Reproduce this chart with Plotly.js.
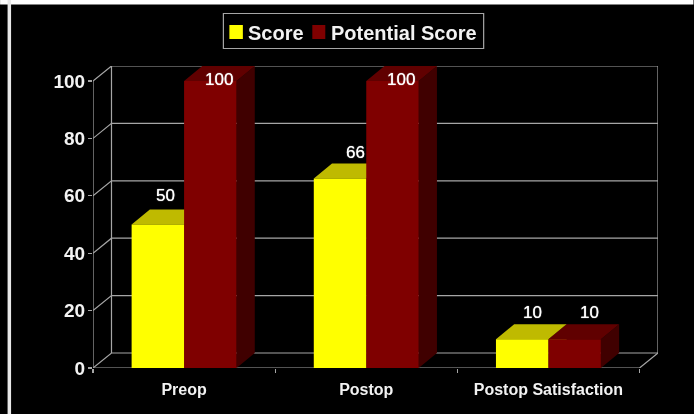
<!DOCTYPE html>
<html>
<head>
<meta charset="utf-8">
<script src="https://cdn.plot.ly/plotly-3.0.1.min.js"></script>
<style>html,body{margin:0;padding:0;background:#000;overflow:hidden}#c{width:694px;height:414px;filter:blur(0.45px)}</style>
</head>
<body>
<div id="c"></div>
<script>
const categories = ["Preop", "Postop", "Postop Satisfaction"];
const score = [50, 66, 10];
const potentialScore = [100, 100, 10];
const yTicks = [0, 20, 40, 60, 80, 100];

const W = 694, H = 414, L = 93, R = 658.5, T = 66, B = 368;
const xMax = 2.6015, yMax = 105.226, depthX = 0.1, wallX = xMax - 2.5, depthY = yMax - 100;
const barW = 0.288;
const GRID = '#a6a6a6', TEXT = '#f2f2f2', FONT = '"Liberation Sans", Arial, sans-serif';
const px = p => (p - L) / (R - L), py = p => (B - p) / (B - T);
const xs = categories.map((_, i) => i);

function faces(values, offset, kind) {
  const X = [], Y = [];
  values.forEach((v, i) => {
    const x0 = i + offset, x1 = x0 + barW;
    const pts = kind === 'top'
      ? [[x0, v], [x1, v], [x1 + depthX, v + depthY], [x0 + depthX, v + depthY], [x0, v]]
      : [[x1, 0], [x1, v], [x1 + depthX, v + depthY], [x1 + depthX, depthY], [x1, 0]];
    pts.forEach(p => { X.push(p[0]); Y.push(p[1]); });
    X.push(null); Y.push(null);
  });
  return { x: X, y: Y };
}
function face(values, offset, kind, color) {
  return Object.assign(faces(values, offset, kind), {
    type: 'scatter', mode: 'lines', fill: 'toself', fillcolor: color,
    line: { width: 0, color: color }, hoverinfo: 'skip', showlegend: false, cliponaxis: false
  });
}
const gx = [], gy = [];
yTicks.forEach(t => { gx.push(-0.5, -0.5 + wallX, xMax, null); gy.push(t, t + depthY, t + depthY, null); });
gx.push(-0.5, -0.5, null, -0.5 + wallX, -0.5 + wallX, null, xMax, xMax, null, -0.5, 2.5, xMax, null);
gy.push(0, 100, null, depthY, 100 + depthY, null, depthY, 100 + depthY, null, 0, 0, depthY, null);

const data = [
  { x: gx, y: gy, type: 'scatter', mode: 'lines', line: { color: GRID, width: 1.2 }, hoverinfo: 'skip', showlegend: false, cliponaxis: false },
  face(score, -barW, 'side', '#808000'),
  face(score, -barW, 'top', '#bfba00'),
  face(potentialScore, 0, 'side', '#400000'),
  face(potentialScore, 0, 'top', '#600000'),
  { name: 'Score', x: xs, y: score, type: 'bar', xaxis: 'x2', yaxis: 'y2', marker: { color: '#ffff00', line: { width: 0 } }, showlegend: false },
  { name: 'Potential Score', x: xs, y: potentialScore, type: 'bar', xaxis: 'x2', yaxis: 'y2', marker: { color: '#7f0000', line: { width: 0 } }, showlegend: false }
];

const scoreLabelShift = [-1, 6, 1], potentialLabelShift = [0, -1, 6];
const scoreLabelLift = [1, -2, -1], potentialLabelLift = [0, 0, -1];
const valueLabels = [];
[[score, -barW / 2, scoreLabelShift, scoreLabelLift], [potentialScore, barW / 2, potentialLabelShift, potentialLabelLift]].forEach(([vals, off, shifts, lifts]) => {
  vals.forEach((v, i) => valueLabels.push({
    x: i + off + depthX / 2, y: Math.min(v + 9.8, 100.4), xref: 'x', yref: 'y', xshift: shifts[i], yshift: lifts[i],
    text: String(v), showarrow: false, font: { family: FONT, size: 17, color: '#ffffff', shadow: '0 0 1px #ffffff' }
  }));
});
const legendLabels = [['Score', 246], ['Potential Score', 329]].map(([t, p]) => ({
  x: px(p), y: py(32.5), xref: 'paper', yref: 'paper', xanchor: 'left', yanchor: 'middle',
  text: '<b>' + t + '</b>', showarrow: false, font: { family: FONT, size: 20, color: TEXT }
}));
function rect(x0, y0, x1, y1, fill, line) {
  return { type: 'rect', xref: 'paper', yref: 'paper', x0: px(x0), x1: px(x1), y0: py(y0), y1: py(y1),
    fillcolor: fill, line: line ? { color: line, width: 1.2 } : { width: 0 }, layer: 'above' };
}
const layout = {
  width: W, height: H, autosize: false,
  margin: { l: L, r: W - R, t: T, b: H - B, pad: 0 },
  paper_bgcolor: '#000', plot_bgcolor: '#000',
  showlegend: false, barmode: 'group', bargap: 1 - 2 * barW, bargroupgap: 0,
  xaxis: { range: [-0.5, xMax], tickmode: 'array', tickvals: xs, ticktext: categories, ticks: '',
    showgrid: false, zeroline: false, showline: false, ticklabelstandoff: 10,
    tickfont: { family: FONT, size: 16, color: TEXT, weight: 700 } },
  yaxis: { range: [0, yMax], tickmode: 'array', tickvals: yTicks, ticks: 'outside', ticklen: 4, tickwidth: 1.2, tickcolor: GRID,
    showgrid: false, zeroline: false, showline: false, ticklabelstandoff: -1,
    tickfont: { family: FONT, size: 19, color: TEXT, weight: 700 } },
  xaxis2: { overlaying: 'x', anchor: 'y2', range: [-0.5, xMax], tickmode: 'array', tickvals: [-0.5, 0.5, 1.5, 2.5], ticktext: ['', '', '', ''],
    ticks: 'outside', ticklen: 4, tickwidth: 1.2, tickcolor: GRID, showgrid: false, zeroline: false, showline: false, showticklabels: false },
  yaxis2: { overlaying: 'y', anchor: 'x2', range: [0, yMax], showgrid: false, zeroline: false, showline: false, showticklabels: false, ticks: '' },
  annotations: valueLabels.concat(legendLabels),
  shapes: [
    rect(0, 0, W, 4.5, '#ffffff'),
    rect(7.5, 0, 11, H, '#e8e8e8'),
    rect(223.5, 13.5, 484, 48.5, 'rgba(0,0,0,0)', GRID),
    rect(229.5, 25, 243, 39, '#ffff00'),
    rect(312.5, 25, 325.5, 39, '#7f0000')
  ]
};
Plotly.newPlot('c', data, layout, { displayModeBar: false, staticPlot: true });
</script>
</body>
</html>
